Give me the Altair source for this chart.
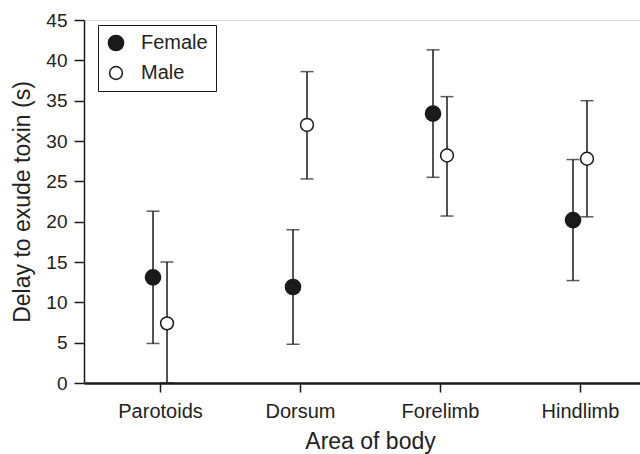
import altair as alt
import pandas as pd

areas = ["Parotoids", "Dorsum", "Forelimb", "Hindlimb"]
female_mean = [13.1, 11.9, 33.4, 20.2]
female_lo = [4.9, 4.8, 25.5, 12.7]
female_hi = [21.3, 19.0, 41.3, 27.7]
male_mean = [7.4, 32.0, 28.2, 27.8]
male_lo = [0.0, 25.3, 20.7, 20.6]
male_hi = [15.0, 38.6, 35.5, 35.0]
y_ticks = [0, 5, 10, 15, 20, 25, 30, 35, 40, 45]

rows = []
for i, a in enumerate(areas):
    rows.append(dict(area=a, idx=i, sex="Female", mean=female_mean[i], lo=female_lo[i], hi=female_hi[i]))
    rows.append(dict(area=a, idx=i, sex="Male", mean=male_mean[i], lo=male_lo[i], hi=male_hi[i]))
df = pd.DataFrame(rows)

label_expr = "[" + ",".join(f"'{a}'" for a in areas) + "][datum.value]"

INK = "#1a1a1a"
FONT = "Liberation Sans"

x_enc = alt.X(
    "pos:Q",
    scale=alt.Scale(domain=[-0.543, 3.4286], nice=False, zero=False),
    axis=alt.Axis(
        title="Area of body",
        values=[0, 1, 2, 3],
        labelExpr=label_expr,
        grid=False,
        domainWidth=2.5,
        domainColor=INK,
        tickColor=INK,
        tickWidth=1.5,
        tickSize=9,
        labelFontSize=20,
        labelColor="#222",
        labelFont=FONT,
        labelBaseline="alphabetic",
        labelPadding=25,
        labelFlush=False,
        titleFontSize=23,
        titleFontWeight="normal",
        titleFont=FONT,
        titleColor="#222",
        titleBaseline="alphabetic",
        titleX=286,
        titleY=65,
    ),
)
y_scale = alt.Scale(domain=[0, 45], nice=False)
y_axis = alt.Axis(
    title="Delay to exude toxin (s)",
    values=y_ticks,
    grid=False,
    domainWidth=1.5,
    domainColor=INK,
    tickColor=INK,
    tickWidth=1.5,
    tickSize=10,
    labelFontSize=19,
    labelColor="#222",
    labelFont=FONT,
    labelPadding=7,
    titleFontSize=23,
    titleFontWeight="normal",
    titleFont=FONT,
    titleColor="#222",
    titleBaseline="alphabetic",
    titleAngle=270,
    titleX=-55,
    titleY=181.5,
)

base = alt.Chart(df).transform_calculate(
    pos="datum.idx + (datum.sex == 'Female' ? -0.05 : 0.05)"
)

whisker = base.mark_rule(color=INK, strokeWidth=1.5).encode(
    x=x_enc,
    y=alt.Y("lo:Q", scale=y_scale, axis=y_axis),
    y2="hi:Q",
)
cap_lo = base.mark_tick(color=INK, orient="horizontal", size=13, thickness=1.5).encode(
    x=x_enc, y=alt.Y("lo:Q", scale=y_scale, axis=y_axis)
)
cap_hi = base.mark_tick(color=INK, orient="horizontal", size=13, thickness=1.5).encode(
    x=x_enc, y=alt.Y("hi:Q", scale=y_scale, axis=y_axis)
)
points = base.mark_point(shape="circle", filled=True, stroke=INK, strokeWidth=1.5, opacity=1).encode(
    x=x_enc,
    y=alt.Y("mean:Q", scale=y_scale, axis=y_axis),
    fill=alt.Fill(
        "sex:N",
        scale=alt.Scale(domain=["Female", "Male"], range=[INK, "white"]),
        legend=alt.Legend(
            title=None,
            orient="none",
            legendX=14,
            legendY=5,
            strokeColor=INK,
            padding=8,
            labelFontSize=20,
            labelFont=FONT,
            labelColor="#222",
            labelOffset=15,
            rowPadding=9,
            symbolStrokeColor=INK,
            symbolStrokeWidth=1.5,
        ),
    ),
    size=alt.Size(
        "sex:N",
        scale=alt.Scale(domain=["Female", "Male"], range=[230, 165]),
        legend=alt.Legend(title=None),
    ),
)

chart = (
    alt.layer(whisker, cap_lo, cap_hi, points)
    .properties(
        width=556,
        height=363,
        autosize=alt.AutoSizeParams(type="none"),
        padding={"left": 84, "top": 20, "right": 0, "bottom": 71},
    )
    .configure_view(stroke=None)
    .configure_legend(strokeWidth=1)
    .configure(background="white")
)

chart.save("out.html", embed_options={"renderer": "svg", "actions": False})
